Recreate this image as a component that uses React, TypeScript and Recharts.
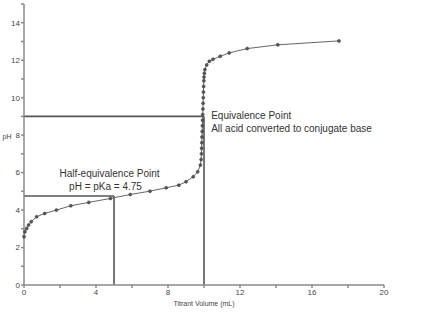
import React from 'react';
import { LineChart, Line, XAxis, YAxis, ReferenceLine, ReferenceDot, Label } from 'recharts';

const volumes = [0, 0.05, 0.15, 0.25, 0.4, 0.7, 1.15, 1.8, 2.6, 3.6, 4.8, 5.9, 7.0, 7.9, 8.6, 9.0, 9.4, 9.65, 9.8, 9.84, 9.86, 9.87, 9.88, 9.89, 9.9, 9.91, 9.92, 9.93, 9.94, 9.95, 9.96, 9.97, 9.98, 9.99, 10.0, 10.02, 10.05, 10.15, 10.3, 10.5, 10.9, 11.4, 12.4, 14.1, 17.5];
const phValues = [2.58, 2.84, 3.02, 3.2, 3.38, 3.64, 3.82, 4.0, 4.23, 4.41, 4.62, 4.83, 5.01, 5.19, 5.33, 5.51, 5.78, 6.04, 6.4, 6.7, 7.0, 7.3, 7.6, 7.9, 8.2, 8.5, 8.8, 9.1, 9.4, 9.7, 10.0, 10.3, 10.6, 10.9, 11.1, 11.3, 11.5, 11.75, 11.95, 12.05, 12.21, 12.39, 12.62, 12.82, 13.03];

const xTicks = [0, 2, 4, 6, 8, 10, 12, 14, 16, 18, 20];
const yTicks = [0, 1, 2, 3, 4, 5, 6, 7, 8, 9, 10, 11, 12, 13, 14, 15];

const equivalenceVolume = 10;
const equivalencePH = 9;
const halfVolume = 5;
const pKa = 4.75;

const data = volumes.map((v, i) => ({ v, ph: phValues[i] }));

const FONT = '"Liberation Sans", Arial, sans-serif';
const TEXT = '#333';

const EquivLabel = (props: any) => {
  const { viewBox } = props;
  const x = viewBox.x;
  const y = viewBox.y;
  return (
    <g fontFamily={FONT} fontSize={10} fill={TEXT}>
      <text x={x} y={y + 3}>Equivalence Point</text>
      <text x={x} y={y + 16}>All acid converted to conjugate base</text>
    </g>
  );
};

const HalfLabel = (props: any) => {
  const { viewBox } = props;
  const x = viewBox.x;
  const y = viewBox.y;
  return (
    <g fontFamily={FONT} fontSize={10} fill={TEXT} textAnchor="middle">
      <text x={x} y={y + 3}>Half-equivalence Point</text>
      <text x={x - 4} y={y + 16}>pH = pKa = 4.75</text>
    </g>
  );
};

export default function App() {
  return (
    <div style={{ position: 'absolute', left: 0, top: 0, background: '#fff' }}>
      <LineChart width={431} height={317} data={data} margin={{ top: 4, right: 47, bottom: 12, left: 4 }}>
        <XAxis
          dataKey="v"
          type="number"
          domain={[0, 20]}
          ticks={xTicks}
          tickFormatter={(t: number) => (t % 4 === 0 ? String(t) : '')}
          tick={{ fontSize: 8, fill: '#444', fontFamily: FONT }}
          tickSize={3}
          tickMargin={1}
          height={20}
          stroke="#8a8a8a"
          strokeWidth={1.5}
          interval={0}
        >
          <Label
            content={(p: any) => (
              <text x={p.viewBox.x + p.viewBox.width / 2} y={p.viewBox.y + 21} fontSize={7} fontFamily={FONT} style={{ fill: '#444' }} textAnchor="middle">
                Titrant Volume (mL)
              </text>
            )}
          />
        </XAxis>
        <YAxis
          dataKey="ph"
          type="number"
          domain={[0, 15]}
          ticks={yTicks}
          tickFormatter={(t: number) => (t % 2 === 0 && t !== 15 ? String(t) : '')}
          tick={{ fontSize: 8, fill: '#444', fontFamily: FONT }}
          tickSize={3}
          tickMargin={1}
          width={20}
          stroke="#8a8a8a"
          strokeWidth={1.5}
          interval={0}
        >
          <Label
            content={() => (
              <text x={7} y={139} fontSize={7} fontFamily={FONT} style={{ fill: '#444' }} textAnchor="middle">
                pH
              </text>
            )}
          />
        </YAxis>
        <ReferenceLine segment={[{ x: 0, y: equivalencePH }, { x: equivalenceVolume, y: equivalencePH }]} stroke="#555" strokeWidth={1.6} />
        <ReferenceLine segment={[{ x: equivalenceVolume, y: 0 }, { x: equivalenceVolume, y: equivalencePH }]} stroke="#555" strokeWidth={1.6} />
        <ReferenceLine segment={[{ x: 0, y: pKa }, { x: halfVolume, y: pKa }]} stroke="#555" strokeWidth={1.6} />
        <ReferenceLine segment={[{ x: halfVolume, y: 0 }, { x: halfVolume, y: pKa }]} stroke="#555" strokeWidth={1.6} />
        <Line
          dataKey="ph"
          stroke="#666"
          strokeWidth={1}
          dot={{ r: 1.5, fill: '#555', stroke: '#444', strokeWidth: 0.6 }}
          isAnimationActive={false}
        />
        <ReferenceDot x={10.4} y={9} r={0} ifOverflow="visible" label={<EquivLabel />} />
        <ReferenceDot x={4.75} y={5.95} r={0} ifOverflow="visible" label={<HalfLabel />} />
      </LineChart>
    </div>
  );
}
